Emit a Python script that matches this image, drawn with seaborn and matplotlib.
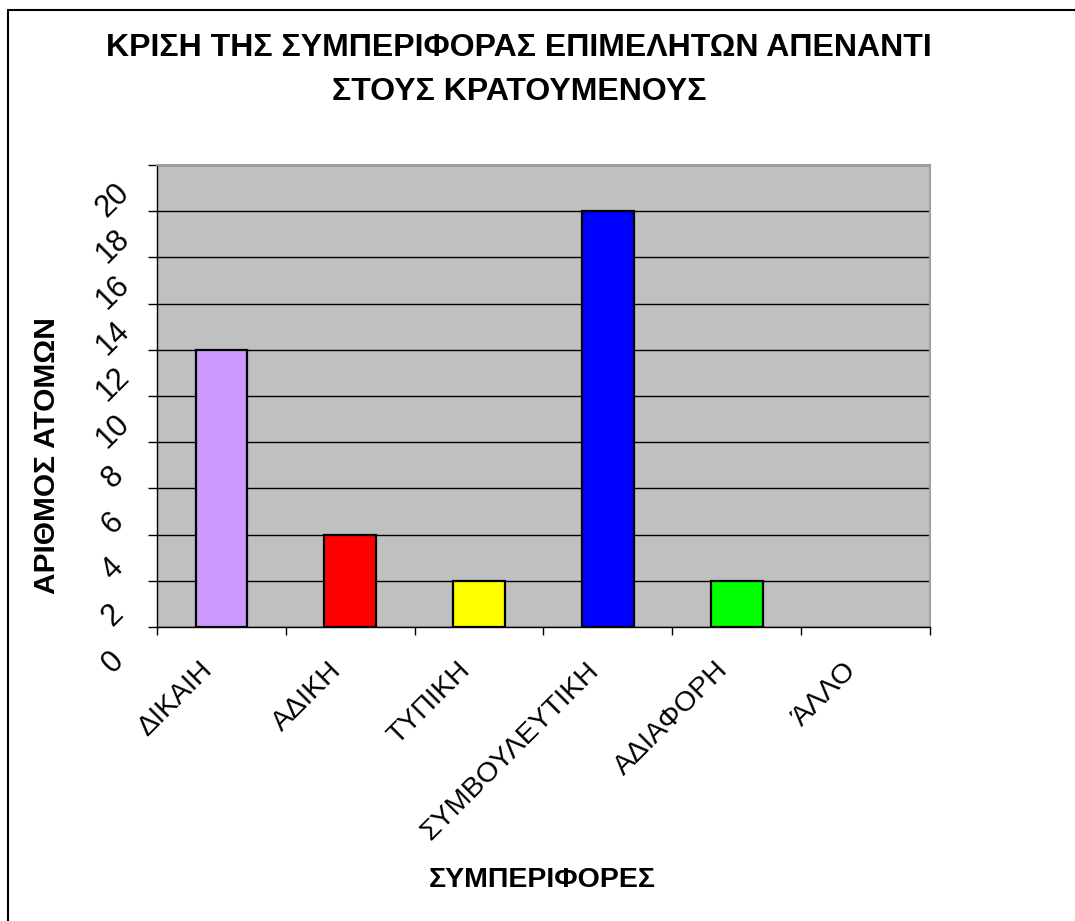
import numpy as np
import matplotlib
matplotlib.use("Agg")
import matplotlib.pyplot as plt
import matplotlib.transforms as mtransforms
from matplotlib.lines import Line2D
import seaborn as sns

# data
categories = ["ΔΙΚΑΙΗ", "ΑΔΙΚΗ", "ΤΥΠΙΚΗ", "ΣΥΜΒΟΥΛΕΥΤΙΚΗ", "ΑΔΙΑΦΟΡΗ", "ΆΛΛΟ"]
counts = [12, 4, 2, 18, 2, 0]
bar_colors = ["#CC99FF", "#FF0000", "#FFFF00", "#0000FF", "#00FF00", "#808080"]
y_ticks = list(range(0, 21, 2))

title = "ΚΡΙΣΗ ΤΗΣ ΣΥΜΠΕΡΙΦΟΡΑΣ ΕΠΙΜΕΛΗΤΩΝ ΑΠΕΝΑΝΤΙ\nΣΤΟΥΣ ΚΡΑΤΟΥΜΕΝΟΥΣ"
x_label = "ΣΥΜΠΕΡΙΦΟΡΕΣ"
y_label = "ΑΡΙΘΜΟΣ ΑΤΟΜΩΝ"

sns.set_style("white")
plt.rcParams['font.family'] = ['Liberation Sans', 'DejaVu Sans']
plt.rcParams['text.color'] = 'black'
plt.rcParams['axes.labelcolor'] = 'black'
plt.rcParams['xtick.color'] = 'black'
plt.rcParams['ytick.color'] = 'black'

W, H = 1075, 921
fig = plt.figure(figsize=(W / 100, H / 100), dpi=100)
ax = fig.add_axes([157 / W, 1 - 627 / H, (930 - 157) / W, (627 - 165) / H])
ax.set_facecolor("#C0C0C0")

sns.barplot(x=categories, y=counts, hue=categories, palette=bar_colors,
            legend=False, width=0.4, edgecolor="black", linewidth=1.6,
            saturation=1, ax=ax, zorder=3)
# an empty category draws nothing
for p in ax.patches:
    if p.get_height() == 0:
        p.set_visible(False)

ax.set_ylim(0, 20)
ax.set_xlim(-0.5, len(categories) - 0.5)
ax.set_yticks(y_ticks)
ax.set_yticklabels([str(v) for v in y_ticks])
ax.yaxis.grid(True, color="black", linewidth=1.0)
ax.xaxis.grid(False)
ax.set_axisbelow(True)

# ticks between categories, labels at the centres
ax.set_xticks(np.arange(-0.5, len(categories), 1), minor=True)
ax.tick_params(axis="x", which="major", length=0, pad=0)
ax.tick_params(axis="x", which="minor", length=6, width=1, color="black",
               direction="out", bottom=True)
ax.tick_params(axis="y", which="major", length=6.5, width=1, color="black",
               direction="out", left=True, pad=0)

for s in ["left", "bottom"]:
    ax.spines[s].set_color("black")
    ax.spines[s].set_linewidth(1.0)
for s in ["top", "right"]:
    ax.spines[s].set_color("#A0A0A0")
    ax.spines[s].set_linewidth(1.5)

# x tick labels: 45 degrees, ending just left of the category centre
xoff = mtransforms.ScaledTranslation(-22 / 100, -30 / 100, fig.dpi_scale_trans)
for lab in ax.get_xticklabels():
    lab.set_rotation(45)
    lab.set_ha("right")
    lab.set_va("top")
    lab.set_rotation_mode("anchor")
    lab.set_fontsize(20.5)
    lab.set_transform(lab.get_transform() + xoff)

# y tick labels: 45 degrees, sitting below their gridline as in the original
yoff = mtransforms.ScaledTranslation(-35 / 100, -35 / 100, fig.dpi_scale_trans)
for lab in ax.get_yticklabels():
    lab.set_rotation(45)
    lab.set_ha("center")
    lab.set_va("center")
    lab.set_rotation_mode("anchor")
    lab.set_fontsize(22)
    lab.set_transform(lab.get_transform() + yoff)

ax.set_xlabel(x_label, fontsize=20.5, fontweight="bold")
ax.xaxis.set_label_coords((542 - 157) / 773, (627 - 880) / 462)
ax.xaxis.label.set_va("center")
ax.set_ylabel(y_label, fontsize=21.5, fontweight="bold")
ax.yaxis.set_label_coords((47 - 157) / 773, (627 - 456) / 462)
ax.yaxis.label.set_va("center")

fig.text(519 / W, 1 - 70 / H, title, ha="center", va="center",
         fontsize=23, fontweight="bold", linespacing=1.63)

# chart frame (only left and top edges visible)
fig.add_artist(Line2D([8 / W, 8 / W], [0, 1 - 10 / H], color="black", lw=1.5))
fig.add_artist(Line2D([8 / W, 1], [1 - 10 / H, 1 - 10 / H], color="black", lw=1.5))

fig.savefig("out.png", dpi=100, facecolor="white")
